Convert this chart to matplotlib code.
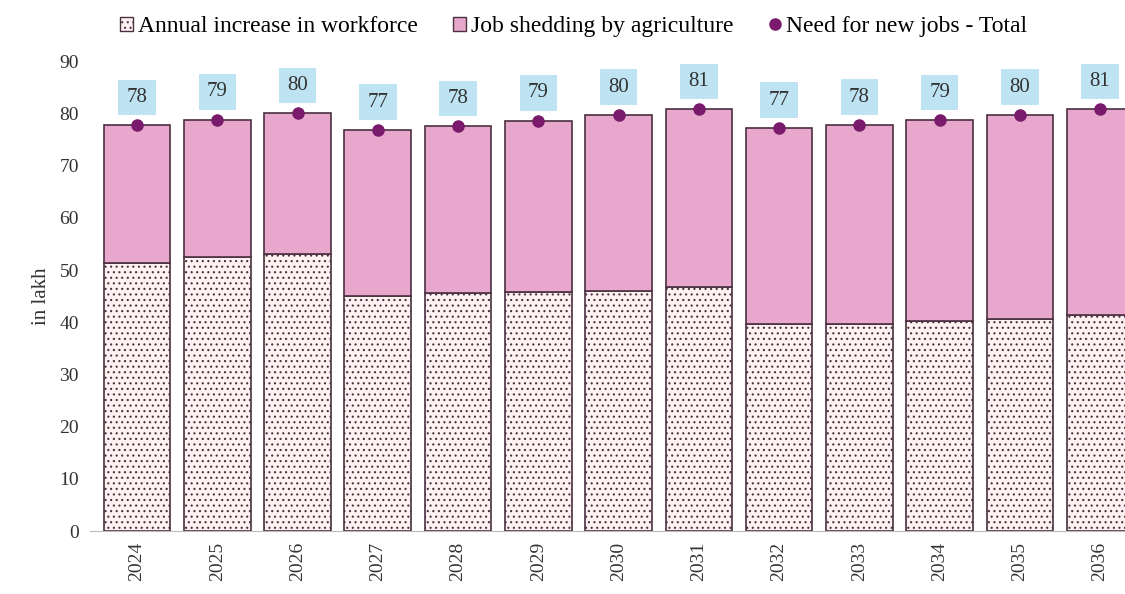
import matplotlib
matplotlib.use('Agg')
from matplotlib import pyplot as plt
from matplotlib.patches import Patch
from matplotlib.lines import Line2D
import numpy as np

years = ['2024', '2025', '2026', '2027', '2028', '2029', '2030',
         '2031', '2032', '2033', '2034', '2035', '2036']
workforce = [51.4, 52.4, 53.0, 45.0, 45.5, 45.7, 46.0, 46.8, 39.7, 39.7, 40.3, 40.7, 41.3]
total = [77.7, 78.8, 80.0, 76.8, 77.5, 78.6, 79.7, 80.8, 77.2, 77.8, 78.7, 79.7, 80.8]
labels = ['78', '79', '80', '77', '78', '79', '80', '81', '77', '78', '79', '80', '81']
agri = [t - w for t, w in zip(total, workforce)]

plt.rcParams['font.family'] = ['Liberation Serif', 'DejaVu Serif']
plt.rcParams['hatch.color'] = '#A86070'
plt.rcParams['hatch.linewidth'] = 0.8

fig = plt.figure(figsize=(11.25, 5.94), dpi=100)
ax = fig.add_axes([0.08, 0.106, 0.92, 0.791])

x = np.arange(len(years))
edge = '#4A3040'
ax.bar(x, workforce, width=0.83, color='#FDF1F1', edgecolor=edge,
       linewidth=1.2, hatch='...')
ax.bar(x, agri, width=0.83, bottom=workforce, color='#E8A7CD',
       edgecolor=edge, linewidth=1.2)
ax.plot(x, total, 'o', color='#7A1A6C', markersize=8, zorder=5)

for xi, t, lab in zip(x, total, labels):
    ax.annotate(lab, (xi, t), xytext=(0, 20), textcoords='offset points',
                ha='center', va='center', fontsize=15, color='#333333',
                bbox=dict(boxstyle='square,pad=0.4', fc='#BEE3F2', ec='none'))

ax.set_xlim(-0.586, 12.31)
ax.set_ylim(0, 90)
ax.set_yticks(range(0, 91, 10))
ax.set_xticks(x)
ax.set_xticklabels(years, rotation=90)
ax.tick_params(axis='both', length=0, labelsize=14, colors='#333333', pad=8)
for s in ['top', 'right', 'left']:
    ax.spines[s].set_visible(False)
ax.spines['bottom'].set_color('#BBBBBB')
ax.set_ylabel('in lakh', fontsize=15, color='#333333', labelpad=6)

handles = [Patch(facecolor='#FDF1F1', edgecolor=edge, hatch='...'),
           Patch(facecolor='#E8A7CD', edgecolor=edge),
           Line2D([], [], marker='o', ls='none', color='#7A1A6C', markersize=8)]
names = ['Annual increase in workforce', 'Job shedding by agriculture',
         'Need for new jobs - Total']
fig.legend(handles, names, loc='center', bbox_to_anchor=(0.51, 0.955), ncol=3,
           frameon=False, fontsize=17, handlelength=0.55, handleheight=0.55,
           handletextpad=0.2, columnspacing=1.5)

fig.savefig('out.png', dpi=100)
